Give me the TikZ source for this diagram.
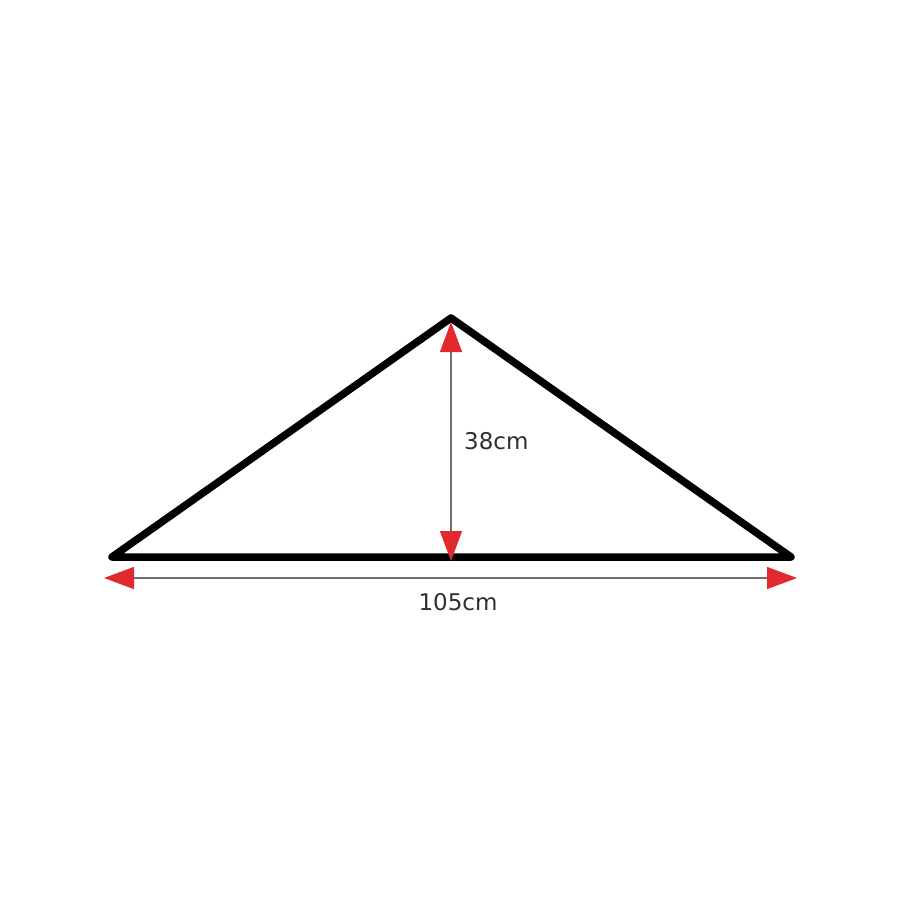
\documentclass[tikz,border=0pt]{standalone}
\usepackage{fontspec}
\setmainfont{DejaVu Sans}
\usetikzlibrary{arrows.meta}
\definecolor{arrred}{HTML}{E02A2E}
\definecolor{shaft}{HTML}{707070}
\definecolor{txt}{HTML}{303030}
\tikzset{
  edge/.style={line width=7.5pt, line join=round, line cap=round, black},
  dim/.style={line width=1.2pt, shaft,
    {Triangle[length=30pt,width=22pt,color=arrred]}-{Triangle[length=30pt,width=22pt,color=arrred]}},
  lbl/.style={font=\fontsize{23}{26}\selectfont, text=txt, inner sep=0pt}
}
\begin{document}
\begin{tikzpicture}[x=1pt,y=-1pt]
\useasboundingbox (0,0) rectangle (920,920);
\fill[white] (0,0) rectangle (920,920);
\coordinate (A) at (112,557);
\coordinate (B) at (451,318);
\coordinate (C) at (791,557);
\coordinate (H1) at (451,322);
\coordinate (H2) at (451,561);
\coordinate (W1) at (104,578);
\coordinate (W2) at (797,578);
\draw[edge] (A) -- (B) -- (C) -- cycle;
\draw[dim] (H1) -- (H2);
\draw[dim] (W1) -- (W2);
\node[lbl, anchor=west] (h) at (464,441) {38cm};
\node[lbl] (w) at (458,602) {105cm};
\end{tikzpicture}
\end{document}
